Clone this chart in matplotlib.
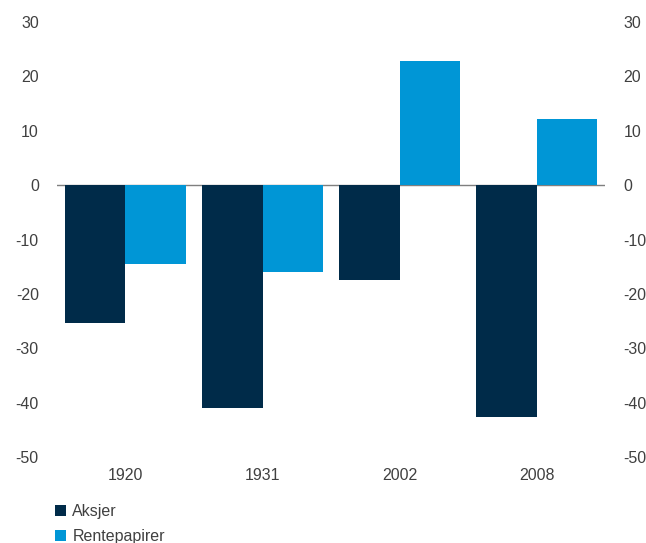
import matplotlib
matplotlib.use("Agg")
import matplotlib.pyplot as plt
import numpy as np

plt.rcParams['font.family'] = ['Liberation Sans', 'DejaVu Sans']

years = ["1920", "1931", "2002", "2008"]
aksjer = [-25.3, -40.9, -17.4, -42.7]
rente = [-14.4, -15.9, 22.9, 12.2]
yticks = [30, 20, 10, 0, -10, -20, -30, -40, -50]

dark = "#002B49"
light = "#0096D6"
txt = "#404040"

fig = plt.figure(figsize=(6.46, 5.43), dpi=100)
ax = fig.add_axes([0.088, 0.158, 0.849, 0.8015])
x = np.arange(len(years))
w = 0.44
b1 = ax.bar(x - w/2, aksjer, w, color=dark, label="Aksjer")
b2 = ax.bar(x + w/2, rente, w, color=light, label="Rentepapirer")
ax.set_xlim(-0.5, 3.5)
ax.set_ylim(-50, 30)
ax.axhline(0, color="#7f7f7f", lw=1, zorder=0)
for s in ax.spines.values():
    s.set_visible(False)
ax.set_yticks(yticks)
ax.set_yticklabels([str(v) for v in yticks])
ax.set_xticks(x)
ax.set_xticklabels(years)
ax.tick_params(axis='both', length=0, labelsize=11.5, colors=txt, pad=8)
ax.tick_params(axis='y', pad=13)
ax2 = ax.twinx()
ax2.set_ylim(-50, 30)
ax2.set_yticks(yticks)
ax2.set_yticklabels([str(v) for v in yticks])
for s in ax2.spines.values():
    s.set_visible(False)
ax2.tick_params(axis='y', length=0, labelsize=11.5, colors=txt, pad=13)

leg = fig.legend(handles=[b1, b2], labels=["Aksjer", "Rentepapirer"],
                 loc="upper left", bbox_to_anchor=(0.075, 0.083), frameon=False,
                 fontsize=11.5, handlelength=0.7, handleheight=0.7, handletextpad=0.4,
                 labelspacing=0.6, borderaxespad=0)
for t in leg.get_texts():
    t.set_color(txt)
fig.savefig("out.png", dpi=100)
